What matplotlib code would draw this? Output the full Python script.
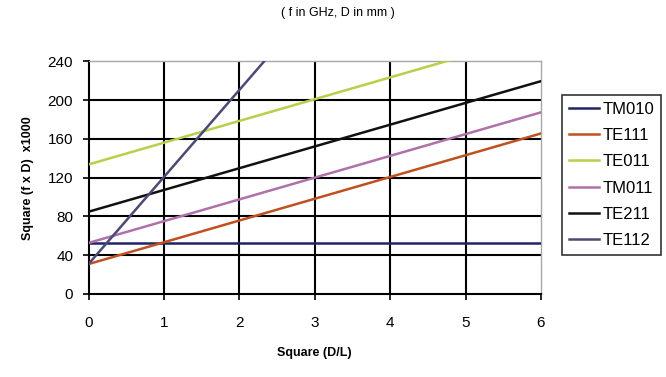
import matplotlib.pyplot as plt

plt.rcParams['font.family'] = ['Liberation Sans', 'DejaVu Sans']

# Square(D/L) at the two ends of each line
x_vals = [0, 6]

# Square(f x D) x 1000 at x = 0 and x = 6
tm010 = [52.7, 52.7]
te111 = [30.9, 165.7]
te011 = [133.7, 268.5]
tm011 = [52.7, 187.5]
te211 = [84.9, 219.7]
te112 = [30.9, 570.0]

labels = ["TM010", "TE111", "TE011", "TM011", "TE211", "TE112"]
series = [tm010, te111, te011, tm011, te211, te112]
colors = ["#1e2466", "#c0501e", "#b8d048", "#b070a8", "#111111", "#4a4a78"]

x_ticks = [0, 1, 2, 3, 4, 5, 6]
y_ticks = [0, 40, 80, 120, 160, 200, 240]

fig = plt.figure(figsize=(6.66, 3.77), dpi=100)
ax = fig.add_axes([0.1329, 0.2202, 0.6794, 0.6167])

# grid lines drawn by hand like an Excel chart
for yv in y_ticks[1:-1]:
    ax.axhline(yv, color='black', lw=1.5, zorder=1)
for xv in x_ticks[1:-1]:
    ax.axvline(xv, color='black', lw=1.5, zorder=1)

for vals, lab, col in zip(series, labels, colors):
    ax.plot(x_vals, vals, color=col, lw=1.8, label=lab, zorder=3)

ax.set_xlim(0, 6)
ax.set_ylim(0, 240)
ax.set_xticks(x_ticks)
ax.set_yticks(y_ticks)
ax.tick_params(axis='x', length=4, width=1.2, pad=12, labelsize=11)
ax.tick_params(axis='y', length=4, width=1.2, pad=7, labelsize=11)

for side in ['left', 'bottom']:
    ax.spines[side].set_color('black')
    ax.spines[side].set_linewidth(1.5)
for side in ['top', 'right']:
    ax.spines[side].set_color('#a8a8a8')
    ax.spines[side].set_linewidth(1.0)

ax.set_xlabel("Square (D/L)", fontsize=9, fontweight='bold', labelpad=12)
ax.set_ylabel("Square (f x D)  x1000", fontsize=9, fontweight='bold', labelpad=10)

fig.text(338 / 666, 1 - 13 / 377, "( f in GHz, D in mm )", ha='center', va='center', fontsize=9)

leg = fig.legend(loc='upper left', bbox_to_anchor=(562 / 666, 1 - 95 / 377),
                 fontsize=12, frameon=True, fancybox=False, borderpad=0.4,
                 labelspacing=0.68, handlelength=1.8, handletextpad=0.25,
                 borderaxespad=0)
leg.get_frame().set_edgecolor('black')
leg.get_frame().set_linewidth(1.2)

plt.savefig("out.png", dpi=100)
